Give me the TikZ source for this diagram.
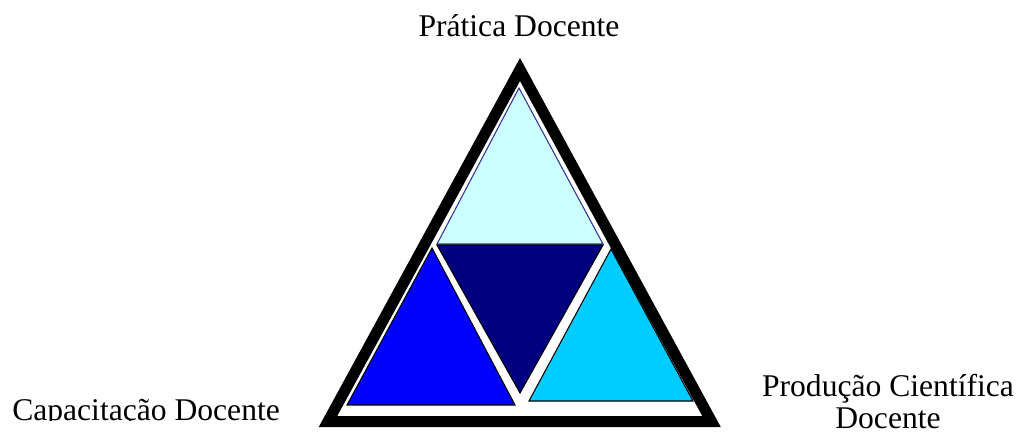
\documentclass[tikz,border=0pt]{standalone}
\usepackage{fontspec}
\setmainfont{Liberation Serif}
\usetikzlibrary{positioning}
\definecolor{palecyan}{HTML}{CCFFFF}
\definecolor{deepnavy}{HTML}{000080}
\definecolor{purecyan}{HTML}{00CCFF}
\definecolor{edgeblue}{HTML}{333399}

\begin{document}
\begin{tikzpicture}[
    x=0.75pt, y=-0.75pt,
    frame/.style={draw=black, line width=8.25pt, line join=miter},
    piece/.style={draw=black, line width=0.8pt, line join=miter},
    cornertext/.style={font=\fontsize{23.7}{24}\selectfont, inner sep=0pt, align=center}
]
\useasboundingbox (0,0) rectangle (1025,436);

% outer frame
\coordinate (top)   at (520,69.5);
\coordinate (left)  at (328,421.5);
\coordinate (right) at (711.5,421.5);
\draw[frame] (top) -- (left) -- (right) -- cycle;

% the four inner pieces
\coordinate (p1) at (519,88);
\coordinate (p2) at (437,244);
\coordinate (p3) at (603,244);
\draw[piece, draw=edgeblue, fill=palecyan] (p1) -- (p2) -- (p3) -- cycle;

\coordinate (m1) at (437,245);
\coordinate (m2) at (603,245);
\coordinate (m3) at (520,393);
\draw[piece, fill=deepnavy] (m1) -- (m2) -- (m3) -- cycle;

\coordinate (c1) at (432,248);
\coordinate (c2) at (347,405);
\coordinate (c3) at (515,405);
\draw[piece, fill=blue] (c1) -- (c2) -- (c3) -- cycle;

\coordinate (s1) at (611,249);
\coordinate (s2) at (529,401);
\coordinate (s3) at (693,401);
\draw[piece, fill=purecyan] (s1) -- (s2) -- (s3) -- cycle;

% labels
\node[cornertext, anchor=base] (pratica) at (519,36) {Prática Docente};
\node[cornertext, anchor=base] (producao) at (888,428) {Produção Científica\\Docente};
\begin{scope}
  \clip (0,0) rectangle (320,420.5);
  \node[cornertext, anchor=base west] (capacitacao) at (12,420) {Capacitação Docente};
\end{scope}
\end{tikzpicture}
\end{document}
